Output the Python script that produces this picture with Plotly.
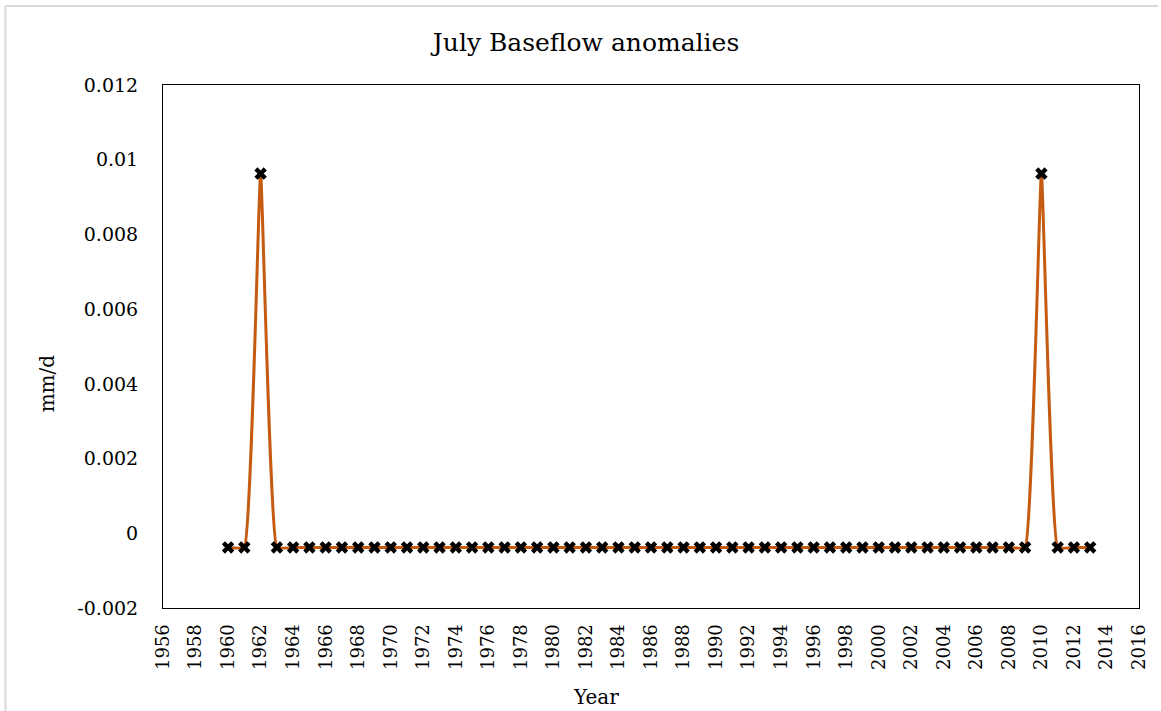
import plotly.graph_objects as go

years = list(range(1960, 2014))
base = -0.00038
peak = 0.00963
values = [base] * len(years)
values[years.index(1962)] = peak
values[years.index(2010)] = peak

x_ticks = list(range(1956, 2017, 2))
y_ticks = [-0.002, 0, 0.002, 0.004, 0.006, 0.008, 0.01, 0.012]
y_tick_text = ["-0.002", "0", "0.002", "0.004", "0.006", "0.008", "0.01", "0.012"]

FONT = "DejaVu Serif"
W, H = 1161, 711
ml, mr, mt, mb = 163, 19, 85, 103
pw = W - ml - mr
ph = H - mt - mb


def px(xp):
    return (xp - ml) / pw


def py(yp):
    return (H - mb - yp) / ph


fig = go.Figure()
fig.add_trace(go.Scatter(
    x=years, y=values, mode="lines+markers",
    line=dict(color="#C55A11", width=3, shape="spline", smoothing=0.3),
    marker=dict(symbol="x", size=11, color="black", line=dict(width=0)),
    showlegend=False, cliponaxis=False,
))

# outer chart border (top and left visible)
fig.add_shape(type="line", xref="paper", yref="paper",
              x0=px(5), x1=px(1161), y0=py(6), y1=py(6),
              line=dict(color="#D9D9D9", width=2), layer="below")
fig.add_shape(type="line", xref="paper", yref="paper",
              x0=px(5), x1=px(5), y0=py(6), y1=py(711),
              line=dict(color="#D9D9D9", width=2), layer="below")

fig.add_annotation(text="mm/d", xref="paper", yref="paper",
                   x=px(47), y=py(383), textangle=-90, showarrow=False,
                   xanchor="center", yanchor="middle",
                   font=dict(size=20, family=FONT, color="black"))
fig.add_annotation(text="Year", xref="paper", yref="paper",
                   x=px(597), y=py(697), showarrow=False,
                   xanchor="center", yanchor="middle",
                   font=dict(size=20, family=FONT, color="black"))

fig.update_layout(
    width=W, height=H,
    margin=dict(l=ml, r=mr, t=mt, b=mb),
    paper_bgcolor="white", plot_bgcolor="white",
    font=dict(family=FONT, color="black", size=18),
    title=dict(text="July Baseflow anomalies", xref="container", x=586 / W,
               xanchor="center", yref="container",
               y=1 - 42 / H, yanchor="middle", font=dict(size=25, family=FONT)),
    xaxis=dict(range=[1956, 2016], tickmode="array", tickvals=x_ticks,
               ticktext=[str(t) for t in x_ticks], tickangle=-90,
               showgrid=False, zeroline=False, showline=True, linecolor="black",
               linewidth=1, mirror=True, ticks="", tickfont=dict(size=18),
               ticklabelstandoff=8),
    yaxis=dict(range=[-0.002, 0.012], tickmode="array", tickvals=y_ticks,
               ticktext=y_tick_text, showgrid=False, zeroline=False,
               showline=True, linecolor="black", linewidth=1, mirror=True,
               ticks="", tickfont=dict(size=19), ticklabelstandoff=20),
)

fig.write_html("out.html", config={"displayModeBar": False},
               post_script="document.body.style.margin='0';document.body.style.overflow='hidden';")
